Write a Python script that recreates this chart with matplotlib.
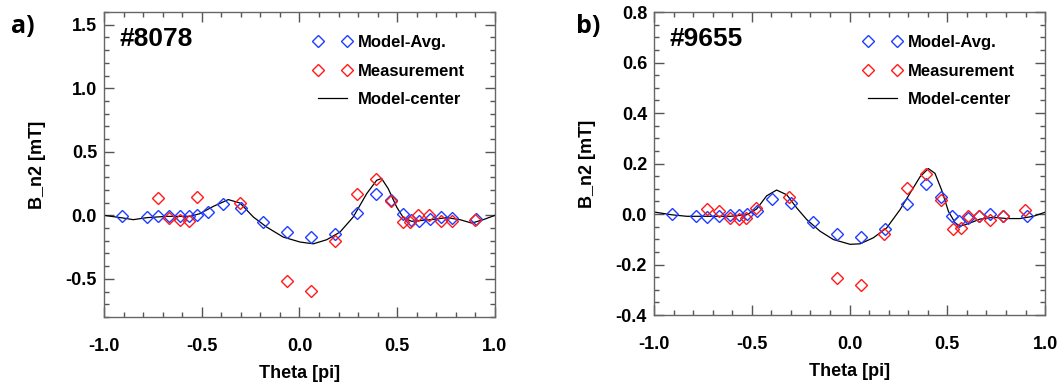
import matplotlib
matplotlib.use("Agg")
from matplotlib import pyplot as plt
from matplotlib.ticker import MultipleLocator

plt.rcParams["font.family"] = "Liberation Sans"
plt.rcParams["font.weight"] = "bold"

BLUE = "#1f3dff"
RED = "#ff1a1a"

# panel a) #8078
a_avg_theta = [-0.906, -0.782, -0.726, -0.668, -0.611, -0.563, -0.523, -0.470, -0.393, -0.298,
               -0.188, -0.062, 0.057, 0.182, 0.296, 0.391, 0.466, 0.531, 0.569, 0.613,
               0.667, 0.722, 0.782, 0.903]
a_avg_b = [-0.008, -0.013, -0.008, -0.005, -0.005, -0.005, 0.0, 0.026, 0.087, 0.058,
           -0.055, -0.132, -0.171, -0.150, 0.018, 0.171, 0.118, 0.008, -0.034, -0.047,
           -0.026, -0.013, -0.018, -0.026]
a_meas_theta = [-0.726, -0.668, -0.611, -0.563, -0.526, -0.304, -0.066, 0.057, 0.182, 0.296,
                0.391, 0.466, 0.528, 0.565, 0.608, 0.664, 0.722, 0.778, 0.898]
a_meas_b = [0.139, -0.018, -0.034, -0.045, 0.145, 0.100, -0.518, -0.597, -0.205, 0.171,
            0.284, 0.111, -0.053, -0.053, 0.0, 0.0, -0.047, -0.047, -0.039]
a_line_theta = [-1.0, -0.906, -0.85, -0.78, -0.68, -0.56, -0.51, -0.44, -0.364, -0.304,
                -0.236, -0.168, -0.083, 0.003, 0.071, 0.139, 0.207, 0.275, 0.344, 0.395,
                0.42, 0.454, 0.497, 0.531, 0.574, 0.633, 0.685, 0.753, 0.821, 0.881,
                0.94, 1.0]
a_line_b = [0.0, -0.02, -0.034, -0.018, -0.008, -0.008, 0.013, 0.071, 0.124, 0.097,
            -0.013, -0.092, -0.171, -0.21, -0.224, -0.192, -0.132, -0.013, 0.171, 0.276,
            0.29, 0.21, 0.066, -0.018, -0.047, -0.039, -0.032, -0.018, -0.034, -0.061,
            -0.034, 0.0]

# panel b) #9655
b_avg_theta = [-0.910, -0.785, -0.727, -0.669, -0.611, -0.564, -0.526, -0.471, -0.395, -0.301,
               -0.188, -0.062, 0.061, 0.180, 0.296, 0.391, 0.470, 0.526, 0.562, 0.608,
               0.664, 0.719, 0.783, 0.906]
b_avg_b = [0.0, -0.009, -0.012, -0.009, -0.003, -0.003, 0.0, 0.010, 0.059, 0.043,
           -0.033, -0.078, -0.090, -0.059, 0.041, 0.119, 0.069, -0.007, -0.029, -0.016,
           -0.009, 0.0, -0.009, -0.007]
b_meas_theta = [-0.727, -0.669, -0.611, -0.564, -0.530, -0.480, -0.308, -0.066, 0.061, 0.177,
                0.296, 0.391, 0.466, 0.531, 0.569, 0.608, 0.664, 0.719, 0.783, 0.898]
b_meas_b = [0.021, 0.013, -0.016, -0.018, -0.016, 0.024, 0.069, -0.255, -0.280, -0.078,
            0.102, 0.158, 0.056, -0.059, -0.055, -0.007, -0.009, -0.022, -0.007, 0.017]
b_line_theta = [-1.0, -0.91, -0.833, -0.73, -0.61, -0.526, -0.475, -0.424, -0.373, -0.321,
                -0.27, -0.219, -0.151, -0.083, 0.003, 0.054, 0.122, 0.19, 0.258, 0.309,
                0.361, 0.403, 0.437, 0.471, 0.506, 0.54, 0.565, 0.608, 0.668, 0.736,
                0.804, 0.872, 0.94, 1.0]
b_line_b = [0.008, -0.003, -0.009, -0.009, -0.009, -0.003, 0.020, 0.072, 0.095, 0.076,
            0.024, -0.022, -0.068, -0.101, -0.120, -0.118, -0.094, -0.055, 0.017, 0.082,
            0.148, 0.180, 0.161, 0.095, 0.010, -0.035, -0.048, -0.038, -0.020, -0.013,
            -0.018, -0.018, -0.009, 0.007]

fig = plt.figure(figsize=(10.64, 3.83), dpi=100)

panels = [
    dict(rect=[0.0977, 0.1723, 0.3675, 0.7963], ylim=(-0.8, 1.6), major=0.5, minor=0.1,
         tag="#8078", letter="a)", lx=0.010,
         avg=(a_avg_theta, a_avg_b), meas=(a_meas_theta, a_meas_b), line=(a_line_theta, a_line_b)),
    dict(rect=[0.6147, 0.1775, 0.3675, 0.7911], ylim=(-0.4, 0.8), major=0.2, minor=0.05,
         tag="#9655", letter="b)", lx=0.541,
         avg=(b_avg_theta, b_avg_b), meas=(b_meas_theta, b_meas_b), line=(b_line_theta, b_line_b)),
]

for p in panels:
    ax = fig.add_axes(p["rect"])
    ax.plot(*p["avg"], "D", ms=5.8, mfc="none", mec=BLUE, mew=1.0, ls="none",
            label="Model-Avg.", zorder=3)
    ax.plot(*p["meas"], "D", ms=5.8, mfc="none", mec=RED, mew=1.0, ls="none",
            label="Measurement", zorder=3)
    ax.plot(*p["line"], color="black", lw=0.9, label="Model-center", zorder=2)

    ax.set_xlim(-1.0, 1.0)
    ax.set_ylim(*p["ylim"])
    ax.xaxis.set_major_locator(MultipleLocator(0.5))
    ax.xaxis.set_minor_locator(MultipleLocator(0.1))
    ax.yaxis.set_major_locator(MultipleLocator(p["major"]))
    ax.yaxis.set_minor_locator(MultipleLocator(p["minor"]))
    ax.xaxis.set_major_formatter(lambda v, pos: f"{v:.1f}")
    ax.yaxis.set_major_formatter(lambda v, pos: f"{v:.1f}")
    ax.tick_params(which="both", direction="in", top=True, right=True, color="#555555",
                   labelsize=13)
    ax.tick_params(axis="x", pad=15)
    ax.tick_params(axis="y", pad=5)
    ax.tick_params(which="major", length=7, width=1)
    ax.tick_params(which="minor", length=3.5, width=1)
    for s in ax.spines.values():
        s.set_color("#666666")
        s.set_linewidth(1)

    ax.set_xlabel("Theta [pi]", fontsize=13, fontweight="bold", labelpad=7)
    ax.set_ylabel("B_n2 [mT]", fontsize=13, fontweight="bold", labelpad=14)
    ax.text(0.04, 0.952, p["tag"], transform=ax.transAxes, fontsize=19, fontweight="bold",
            va="top", ha="left")
    fig.text(p["lx"], 0.932, p["letter"], fontsize=18, fontweight="bold", family="Open Sans",
             va="center", ha="left")

    ax.legend(loc="upper left", bbox_to_anchor=(0.5345, 0.924), frameon=False, numpoints=2,
              borderpad=0, borderaxespad=0, handlelength=2.34, handletextpad=0.36,
              labelspacing=0.81, prop=dict(weight="bold", size=12))

fig.savefig("out.png", dpi=100)
